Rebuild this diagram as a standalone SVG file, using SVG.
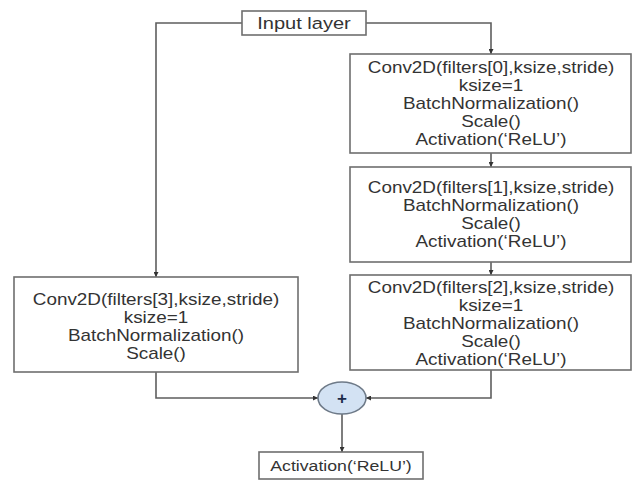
<svg xmlns="http://www.w3.org/2000/svg" width="633" height="480" viewBox="0 0 633 480">
<style>
.box{fill:#fff;stroke:#6e6e6e;stroke-width:1.6}
.t{font-family:"Liberation Sans",Arial,sans-serif;font-size:16px;fill:#333;text-anchor:middle}
.c{fill:none;stroke:#5e5e5e;stroke-width:1.6}
</style>
<defs>
<marker id="ah" viewBox="0 0 6 6" refX="6" refY="3" markerWidth="5" markerHeight="5" orient="auto" markerUnits="userSpaceOnUse">
<path d="M0,0 L6,3 L0,6 Z" fill="#333"/>
</marker>
</defs>
<rect width="633" height="480" fill="#fff"/>
<g id="connectors">
<path class="c" d="M242,23 H156 V277" marker-end="url(#ah)"/>
<path class="c" d="M366,23 H491 V54" marker-end="url(#ah)"/>
<path class="c" d="M491,153 V167" marker-end="url(#ah)"/>
<path class="c" d="M491,262 V275" marker-end="url(#ah)"/>
<path class="c" d="M156,372 V398 H318" marker-end="url(#ah)"/>
<path class="c" d="M491,370 V398 H366" marker-end="url(#ah)"/>
<path class="c" d="M342,414 V452" marker-end="url(#ah)"/>
</g>
<g id="input">
<rect class="box" x="242" y="11" width="124" height="24"/>
<g transform="translate(304 0) scale(1.18 1)">
<text class="t" x="0" y="29" style="font-size:17px">Input layer</text>
</g>
</g>
<g id="conv0">
<rect class="box" x="350" y="54" width="281" height="99"/>
<g transform="translate(491 0) scale(1.18 1)">
<text class="t" x="0" y="73.5">Conv2D(filters[0],ksize,stride)</text>
<text class="t" x="0" y="91.5">ksize=1</text>
<text class="t" x="0" y="109.5">BatchNormalization()</text>
<text class="t" x="0" y="127.5">Scale()</text>
<text class="t" x="0" y="145.5">Activation(‘ReLU’)</text>
</g>
</g>
<g id="conv1">
<rect class="box" x="350" y="167" width="281" height="95"/>
<g transform="translate(491 0) scale(1.18 1)">
<text class="t" x="0" y="193.5">Conv2D(filters[1],ksize,stride)</text>
<text class="t" x="0" y="211.5">BatchNormalization()</text>
<text class="t" x="0" y="229.5">Scale()</text>
<text class="t" x="0" y="247.5">Activation(‘ReLU’)</text>
</g>
</g>
<g id="conv2">
<rect class="box" x="350" y="275" width="281" height="95"/>
<g transform="translate(491 0) scale(1.18 1)">
<text class="t" x="0" y="293.5">Conv2D(filters[2],ksize,stride)</text>
<text class="t" x="0" y="311.5">ksize=1</text>
<text class="t" x="0" y="329.5">BatchNormalization()</text>
<text class="t" x="0" y="347.5">Scale()</text>
<text class="t" x="0" y="365.5">Activation(‘ReLU’)</text>
</g>
</g>
<g id="conv3">
<rect class="box" x="14" y="277" width="284" height="95"/>
<g transform="translate(156 0) scale(1.18 1)">
<text class="t" x="0" y="305">Conv2D(filters[3],ksize,stride)</text>
<text class="t" x="0" y="323">ksize=1</text>
<text class="t" x="0" y="341">BatchNormalization()</text>
<text class="t" x="0" y="359">Scale()</text>
</g>
</g>
<g id="add">
<ellipse cx="342" cy="398" rx="24" ry="16" fill="#d3e2f3" stroke="#6e7a88" stroke-width="1.6"/>
<text x="342" y="404" text-anchor="middle" font-family="Liberation Sans,Arial,sans-serif" font-size="17" font-weight="bold" fill="#1c2b4a">+</text>
</g>
<g id="activation">
<rect class="box" x="259" y="452" width="164" height="27"/>
<g transform="translate(341 0) scale(1.18 1)">
<text class="t" x="0" y="471" style="font-size:15px">Activation(‘ReLU’)</text>
</g>
</g>
</svg>
